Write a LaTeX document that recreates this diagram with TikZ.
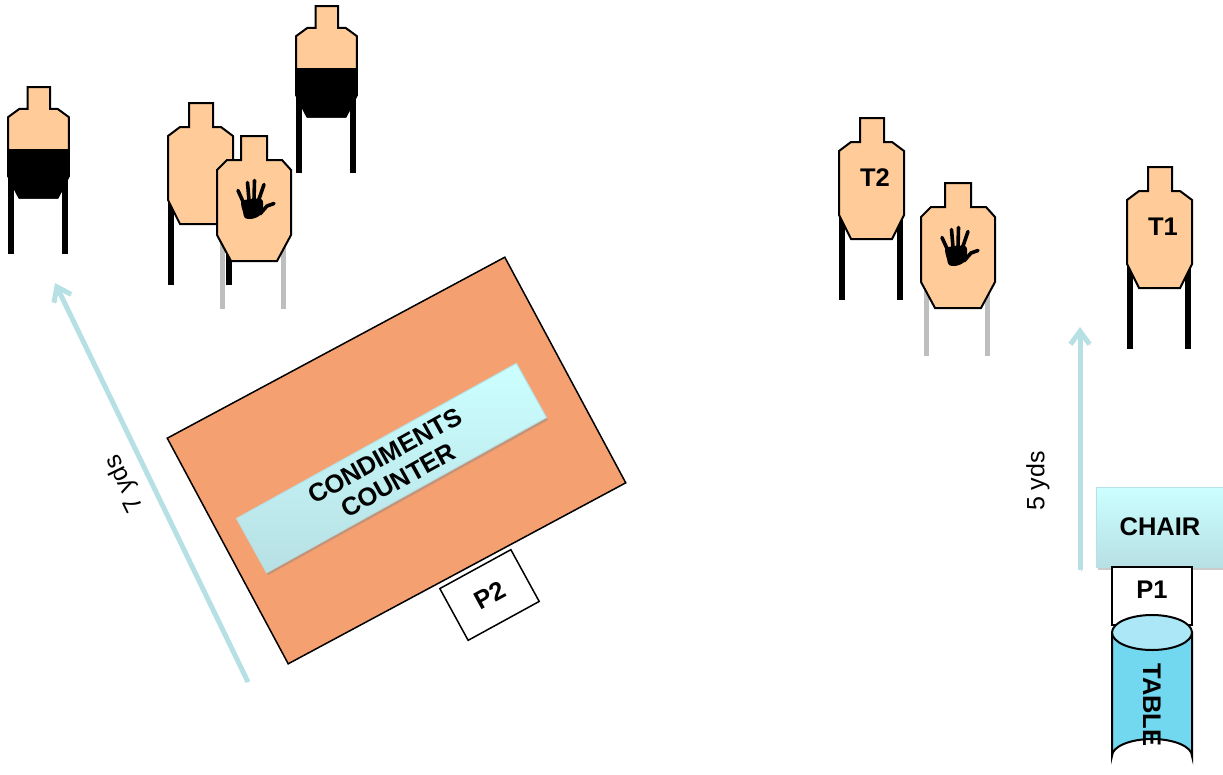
\documentclass[tikz,border=0pt]{standalone}
\usepackage{fontspec}
\setmainfont{Liberation Sans}
\usetikzlibrary{arrows.meta,shadows}
\definecolor{targetfill}{RGB}{255,204,153}
\definecolor{counterfill}{RGB}{244,160,113}
\definecolor{pathblue}{RGB}{183,224,228}
\definecolor{tabletop}{RGB}{172,231,247}
\definecolor{tablebody}{RGB}{114,216,240}
\definecolor{legray}{RGB}{190,190,190}
\newcommand{\bigtext}{\fontsize{25.5}{28}\selectfont\bfseries}
\tikzset{
	body/.style={draw=black,line width=2pt,fill=targetfill,line join=miter},
	leg/.style={line width=5.5pt,draw=black},
	grayleg/.style={line width=5pt,draw=legray},
	boxlabel/.style={draw=black,fill=white,line width=1.5pt,inner sep=0pt,font=\bigtext},
	cyanbox/.style={top color=cyan!20,bottom color=pathblue,draw=pathblue,line width=1pt,inner sep=0pt,
		drop shadow={shadow xshift=1.5pt,shadow yshift=-2.5pt,opacity=.4},font=\bigtext},
	walk/.style={draw=pathblue,line width=5pt,-{Straight Barb[length=13pt,width=19pt]},
		preaction={draw=black!30,opacity=.35,transform canvas={shift={(1.5pt,-1.5pt)}}}},
	distlabel/.style={font=\fontsize{25}{28}\selectfont,inner sep=0pt},
	shooter/.pic={
		\draw[leg] (3,90) -- (3,182);
		\draw[leg] (61,90) -- (61,182);
		\draw[body] (21,0) -- (45,0) -- (45,24) -- (53,24) -- (65,33) -- (65,97) -- (53,121)
			-- (12,121) -- (0,97) -- (0,33) -- (12,24) -- (21,24) -- cycle;
	},
	shooterblack/.pic={
		\draw[leg] (3,90) -- (3,182);
		\draw[leg] (61,90) -- (61,182);
		\draw[body] (21,0) -- (45,0) -- (45,24) -- (53,24) -- (65,33) -- (65,97) -- (53,121)
			-- (12,121) -- (0,97) -- (0,33) -- (12,24) -- (21,24) -- cycle;
		\fill[black] (-1,68) -- (66,68) -- (66,97) -- (53,122) -- (12,122) -- (-1,97) -- cycle;
	},
	noshoot/.pic={
		\draw[grayleg] (5.5,90) -- (5.5,173);
		\draw[grayleg] (66,90) -- (66,173);
		\draw[body] (24,0) -- (50,0) -- (50,24) -- (65,24) -- (74,34) -- (74,99) -- (60,125)
			-- (14,125) -- (0,99) -- (0,34) -- (10,24) -- (24,24) -- cycle;
		% hand, fingers then palm
		\begin{scope}[shift={(8,34)},line cap=round,line width=3.6pt]
			\draw (13,20.5) -- (20,36);
			\draw (22.5,12.5) -- (24,30);
			\draw (29.5,10.5) -- (29,30);
			\draw (39,14.5) -- (33,32);
			\draw (49,33.5) -- (42,36) -- (35,44);
			\fill plot[smooth cycle] coordinates {(17,31) (36,29) (38,38) (34,46) (26,49) (20,48) (18,42)};
		\end{scope}
	},
}
\begin{document}
\begin{tikzpicture}[x=1pt,y=-1pt]
	\useasboundingbox (0,0) rectangle (1223,774);

	% left bay
	\pic[xscale=.938,yscale=.915] at (8,87) {shooterblack};
	\pic[xscale=.938,yscale=.915] at (296,6) {shooterblack};
	\pic at (168,103) {shooter};
	\pic at (217,136) {noshoot};

	\node [draw=black,line width=1.5pt,fill=counterfill,rotate=28.2,minimum width=383pt,minimum height=256pt] (counter) at (396.5,460.5) {};
	\node [cyanbox,rotate=29,minimum width=320pt,minimum height=62pt,align=center] (condiments) at (391.5,468) {CONDIMENTS\\COUNTER};
	\node [boxlabel,rotate=28.7,minimum width=81pt,minimum height=59pt] (p2) at (489.5,595) {P2};

	\coordinate (walk7start) at (248,682);
	\coordinate (walk7end) at (55,283);
	\draw [walk] (walk7start) -- (walk7end);
	\node [distlabel,rotate=116] (yds7) at (125,483) {7 yds};

	% right bay
	\pic at (839,118) {shooter};
	\pic at (921,183) {noshoot};
	\pic at (1127,167) {shooter};
	\node [font=\bigtext,inner sep=0pt] (t2) at (875,178) {T2};
	\node [font=\bigtext,inner sep=0pt] (t1) at (1163,227) {T1};

	\coordinate (walk5start) at (1080,570);
	\coordinate (walk5end) at (1080,327);
	\draw [walk] (walk5start) -- (walk5end);
	\node [distlabel,rotate=90] (yds5) at (1038,481) {5 yds};

	\node [cyanbox,minimum width=128pt,minimum height=80pt] (chair) at (1160,527) {CHAIR};
	\node [boxlabel,minimum width=80pt,minimum height=58pt,text depth=12pt] (p1) at (1152,596) {P1};

	\draw [line width=2pt,fill=tablebody] (1112,632.5) -- (1112,756) arc[start angle=180,end angle=360,x radius=40pt,y radius=-17pt] -- (1192,632.5) -- cycle;
	\draw [line width=2pt,fill=tabletop] (1152,632.5) ellipse[x radius=40pt,y radius=17.5pt];
	\node [font=\bigtext,rotate=-90,inner sep=0pt] (table) at (1152,705) {TABLE};
\end{tikzpicture}
\end{document}
